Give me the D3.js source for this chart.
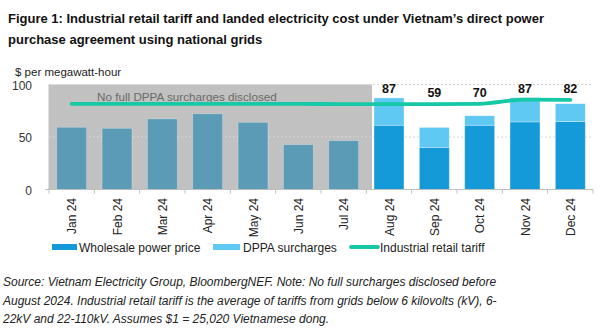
<!DOCTYPE html>
<html><head><meta charset="utf-8">
<script src="https://cdn.jsdelivr.net/npm/d3@7"></script>
<style>
body{margin:0;background:#fff;}
svg{display:block;font-family:"Liberation Sans",Arial,sans-serif;}
</style></head>
<body><svg id="c" width="602" height="333"></svg>
<script>
const months = ["Jan 24","Feb 24","Mar 24","Apr 24","May 24","Jun 24","Jul 24","Aug 24","Sep 24","Oct 24","Nov 24","Dec 24"];
const wholesale = [59.3,58.3,67.3,72.1,64.0,42.7,46.5,61.2,40.1,61.2,64.4,64.7];
const surcharges = [null,null,null,null,null,null,null,26,19,9,23,17];
const totals = [null,null,null,null,null,null,null,87,59,70,87,82];
const tariff = [81.6,81.6,81.6,81.6,81.6,81.5,81.4,81.3,81.3,81.6,85.6,85.4];
const yTicks = [0,50,100];
const disclosedFrom = "Aug 24";
const title = ["Figure 1:  Industrial retail tariff and landed electricity cost under Vietnam\u2019s direct power","purchase agreement using national grids"];
const note = ["Source: Vietnam Electricity Group, BloombergNEF. Note: No full surcharges disclosed before","August 2024. Industrial retail tariff is the average of tariffs from grids below 6 kilovolts (kV), 6-","22kV and 22-110kV. Assumes $1 = 25,020 Vietnamese dong."];
const legendItems = ["Wholesale power price","DPPA surcharges","Industrial retail tariff"];

const svg = d3.select("#c");
const C = {old:"#5b9bb6", whole:"#159ad9", sur:"#5fc8f3", line:"#15c8a6", gray:"#c1c1c1"};

const x = d3.scaleBand().domain(months).range([49,593]).paddingInner(0.34).paddingOuter(0.17);
const y = d3.scaleLinear().domain([0,100]).range([189.5,84.5]);
const step = x.step();

// title
svg.append("g").selectAll("text").data(title).join("text")
  .attr("x",8).attr("y",(d,i)=>23+i*21)
  .attr("font-size",13).attr("font-weight","bold").attr("fill","#111")
  .text(d=>d);

// y title
svg.append("text").attr("x",15).attr("y",76).attr("font-size",11.5).attr("fill","#222").text("$ per megawatt-hour");

// gray region
const discIdx = months.indexOf(disclosedFrom);
svg.append("rect").attr("x",x.range()[0]).attr("y",y(100))
  .attr("width",x(disclosedFrom)-2-x.range()[0]).attr("height",y(0)-y(100))
  .attr("fill",C.gray);

// gridlines
svg.append("g").selectAll("line").data(yTicks.filter(d=>d>0)).join("line")
  .attr("x1",49).attr("x2",593).attr("y1",d=>y(d)).attr("y2",d=>y(d))
  .attr("stroke","#d6d6d6").attr("stroke-width",1).attr("stroke-dasharray","2,2");

// y labels
svg.append("g").selectAll("text").data(yTicks).join("text")
  .attr("x",32).attr("y",d=>y(d)+5).attr("text-anchor","end")
  .attr("font-size",12).attr("fill","#333").text(d=>d);

// bars
const bars = svg.append("g");
months.forEach((m,i)=>{
  const isOld = i < discIdx;
  bars.append("rect").attr("x",x(m)).attr("width",x.bandwidth())
    .attr("y",y(wholesale[i])).attr("height",y(0)-y(wholesale[i]))
    .attr("fill",isOld?C.old:C.whole).attr("stroke","#ffffff").attr("stroke-opacity",0.35).attr("stroke-width",0.8);
  if(surcharges[i]!=null){
    const top = wholesale[i]+surcharges[i];
    bars.append("rect").attr("x",x(m)).attr("width",x.bandwidth())
      .attr("y",y(top)).attr("height",y(wholesale[i])-y(top))
      .attr("fill",C.sur).attr("stroke","#ffffff").attr("stroke-opacity",0.35).attr("stroke-width",0.8);
  }
});

// no-disclosure text
svg.append("text").attr("x",97).attr("y",100.5).attr("font-size",11.7).attr("fill","#6a6a6a")
  .text("No full DPPA surcharges disclosed");

// x axis
const ax = svg.append("g");
ax.append("line").attr("x1",49).attr("x2",593).attr("y1",y(0)).attr("y2",y(0)).attr("stroke","#bfbfbf");
ax.append("line").attr("x1",49).attr("x2",49).attr("y1",y(100)).attr("y2",y(0)).attr("stroke","#bfbfbf");
ax.append("line").attr("x1",45).attr("x2",49).attr("y1",y(0)).attr("y2",y(0)).attr("stroke","#bfbfbf");
const bounds = months.map(m=>x(m)-step*x.paddingInner()/2).concat([x(months[months.length-1])+x.bandwidth()+step*x.paddingInner()/2]);
ax.selectAll("line.t").data(bounds).join("line").attr("class","t")
  .attr("x1",d=>d).attr("x2",d=>d).attr("y1",y(0)).attr("y2",y(0)+4).attr("stroke","#bfbfbf");
ax.selectAll("text").data(months).join("text")
  .attr("transform",d=>`translate(${x(d)+x.bandwidth()/2+4.5},198) rotate(-90)`)
  .attr("text-anchor","end").attr("font-size",12).attr("fill","#222").text(d=>d);

// tariff line
const line = d3.line().x((d,i)=>x(months[i])+x.bandwidth()/2).y(d=>y(d)).curve(d3.curveMonotoneX);
svg.append("path").datum(tariff).attr("d",line).attr("fill","none")
  .attr("stroke",C.line).attr("stroke-width",3.8).attr("stroke-linecap","round");

// totals labels
svg.append("g").selectAll("text").data(months.map((m,i)=>({m,t:totals[i],tar:tariff[i]})).filter(d=>d.t!=null)).join("text")
  .attr("x",d=>x(d.m)+x.bandwidth()/2).attr("y",d=>Math.min(y(d.t),y(d.tar)-2)-5)
  .attr("text-anchor","middle").attr("font-size",12.5).attr("font-weight","bold").attr("fill","#111")
  .text(d=>d.t);

// legend
const lg = svg.append("g");
const lx = [52,213,350], tx=[79,243,380];
lg.append("rect").attr("x",lx[0]).attr("y",244).attr("width",25).attr("height",6).attr("fill",C.whole);
lg.append("rect").attr("x",lx[1]).attr("y",244).attr("width",27).attr("height",6).attr("fill",C.sur);
lg.append("line").attr("x1",lx[2]+1).attr("x2",lx[2]+28).attr("y1",247).attr("y2",247).attr("stroke",C.line).attr("stroke-width",3.8).attr("stroke-linecap","round");
lg.selectAll("text").data(legendItems).join("text")
  .attr("x",(d,i)=>tx[i]).attr("y",251.5).attr("font-size",12).attr("fill","#222").text(d=>d);

// note
svg.append("g").selectAll("text").data(note).join("text")
  .attr("x",3).attr("y",(d,i)=>286+i*18.5).attr("font-size",12).attr("font-style","italic").attr("fill","#222")
  .text(d=>d);
</script></body></html>
